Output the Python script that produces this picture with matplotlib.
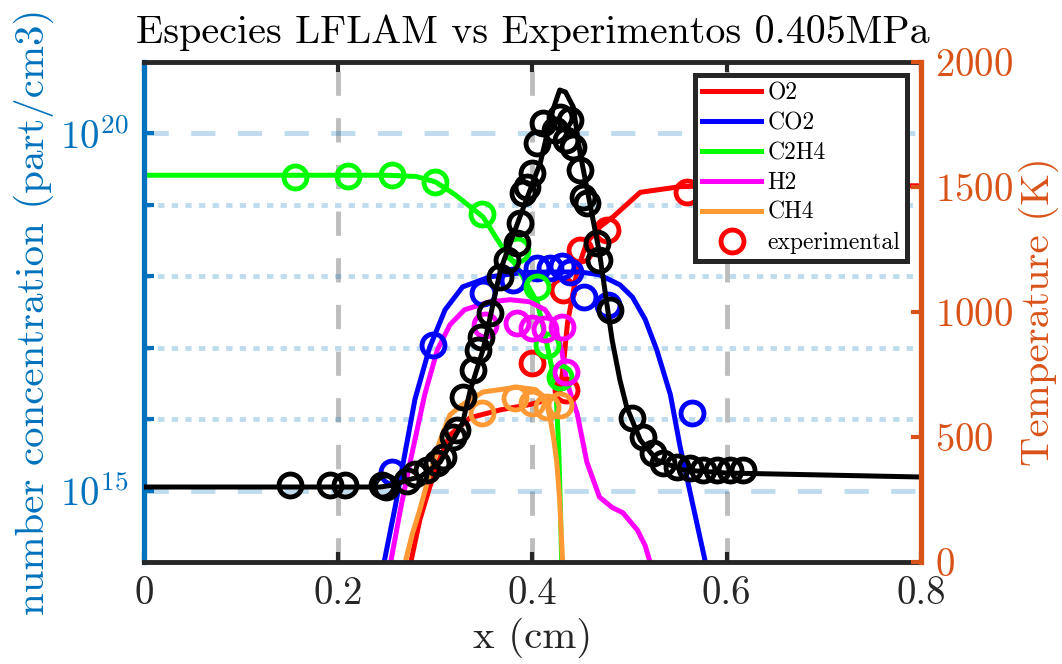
import matplotlib
matplotlib.use('Agg')
import matplotlib.pyplot as plt
from matplotlib.ticker import FixedLocator, NullFormatter, FuncFormatter
from matplotlib.lines import Line2D

plt.rcParams['font.family'] = 'serif'
plt.rcParams['font.serif'] = ['cmr10']
plt.rcParams['mathtext.fontset'] = 'cm'
plt.rcParams['axes.formatter.use_mathtext'] = True

# ---- model curves (LFLAM), number concentration in part/cm3 ----
x_o2 = [0.270, 0.284, 0.294, 0.305, 0.315, 0.336, 0.367, 0.397, 0.418, 0.428, 0.432, 0.436,
        0.446, 0.456, 0.470, 0.483, 0.511, 0.552, 0.593, 0.8]
n_o2 = [5e13, 3.9e14, 1.1e15, 2.9e15, 6.0e15, 1.05e16, 1.35e16, 1.6e16, 1.9e16, 2.3e16, 6e16, 2.2e17,
        1.2e18, 3.0e18, 5.0e18, 6.8e18, 1.5e19, 1.8e19, 1.85e19, 1.85e19]

x_co2 = [0.244, 0.259, 0.267, 0.279, 0.294, 0.310, 0.328, 0.356, 0.387, 0.418, 0.449, 0.469,
         0.490, 0.503, 0.516, 0.528, 0.542, 0.552, 0.564, 0.578, 0.582]
n_co2 = [6e13, 6.3e14, 2.5e15, 1.9e16, 1.0e17, 3.4e17, 7.1e17, 9.8e17, 1.12e18, 1.15e18, 1.15e18, 1.05e18,
         7.6e17, 5.1e17, 2.5e17, 9.3e16, 2.2e16, 4.1e15, 7.4e14, 1e14, 5e13]

x_c2h4 = [0.0, 0.25, 0.28, 0.30, 0.32, 0.349, 0.367, 0.385, 0.405, 0.415, 0.424, 0.427, 0.429, 0.431]
n_c2h4 = [2.6e19, 2.6e19, 2.5e19, 2.1e19, 1.4e19, 6.8e18, 2.8e18, 1.3e18, 4.3e17, 1.1e17, 2.8e16,
          4.0e15, 4.0e14, 3.2e13]

x_h2 = [0.251, 0.264, 0.274, 0.289, 0.302, 0.315, 0.330, 0.356, 0.377, 0.397, 0.413, 0.423,
        0.430, 0.435, 0.441, 0.446, 0.456, 0.469, 0.482, 0.493, 0.508, 0.516, 0.521, 0.524]
n_h2 = [6e13, 5.4e14, 2.5e15, 2.2e16, 9.3e16, 2.1e17, 3.4e17, 4.4e17, 4.7e17, 4.4e17, 3.4e17, 2.1e17,
        9.3e16, 3.5e16, 1.9e16, 1.2e16, 2.5e15, 8.1e14, 5.8e14, 4.9e14, 2.8e14, 1.7e14, 1e14, 5e13]

x_ch4 = [0.265, 0.276, 0.284, 0.294, 0.305, 0.315, 0.328, 0.349, 0.384, 0.403, 0.413, 0.418,
         0.422, 0.425, 0.428, 0.431, 0.433]
n_ch4 = [6e13, 2.4e14, 5.4e14, 1.7e15, 5.1e15, 1.15e16, 1.6e16, 2.4e16, 2.8e16, 2.6e16, 2.0e16, 1.07e16,
         5.1e15, 2.5e15, 7.4e14, 1e14, 3e13]

# ---- experimental species ----
xe_o2 = [0.400, 0.431, 0.435, 0.449, 0.477, 0.559]
ne_o2 = [6.2e16, 6.5e17, 2.6e16, 2.3e18, 4.5e18, 1.5e19]

xe_co2 = [0.255, 0.298, 0.349, 0.380, 0.405, 0.418, 0.430, 0.439, 0.453, 0.478, 0.564]
ne_co2 = [1.8e15, 1.1e17, 5.9e17, 8.9e17, 1.3e18, 1.3e18, 1.4e18, 1.15e18, 5.2e17, 4.0e17, 1.2e16]

xe_c2h4 = [0.155, 0.210, 0.255, 0.300, 0.348, 0.384, 0.405, 0.415, 0.428]
ne_c2h4 = [2.45e19, 2.5e19, 2.6e19, 2.1e19, 7.4e18, 2.3e18, 7.1e17, 1.1e17, 3.9e16]

xe_h2 = [0.351, 0.384, 0.399, 0.413, 0.430, 0.435]
ne_h2 = [2.1e17, 2.2e17, 1.9e17, 1.8e17, 1.95e17, 4.6e16]

xe_ch4 = [0.348, 0.382, 0.400, 0.415, 0.428]
ne_ch4 = [1.2e16, 2.0e16, 1.7e16, 1.5e16, 1.6e16]

# ---- temperature ----
x_T = [0.0, 0.243, 0.258, 0.271, 0.284, 0.294, 0.305, 0.312, 0.320, 0.328, 0.336, 0.349, 0.367,
       0.387, 0.408, 0.421, 0.428, 0.434, 0.442, 0.449, 0.459, 0.469, 0.482, 0.490, 0.497, 0.511,
       0.528, 0.555, 0.600, 0.8]
T_mod = [300, 300, 308, 328, 340, 368, 400, 448, 500, 556, 688, 848, 1168,
         1380, 1596, 1808, 1888, 1880, 1820, 1636, 1436, 1236, 888, 728, 620, 488,
         408, 368, 356, 340]

xe_T = [0.150, 0.192, 0.207, 0.245, 0.249, 0.271, 0.279, 0.291, 0.302, 0.308, 0.318, 0.322,
        0.328, 0.339, 0.344, 0.347, 0.356, 0.367, 0.374, 0.384, 0.387, 0.390, 0.394, 0.400,
        0.405, 0.411, 0.423, 0.428, 0.435, 0.439, 0.442, 0.449, 0.452, 0.456, 0.466, 0.468,
        0.480, 0.502, 0.514, 0.524, 0.534, 0.549, 0.562, 0.576, 0.590, 0.603, 0.617]
Te = [308, 308, 308, 308, 300, 324, 352, 368, 396, 420, 500, 528,
      660, 768, 848, 900, 996, 1140, 1208, 1276, 1356, 1476, 1500, 1556,
      1676, 1756, 1728, 1780, 1688, 1768, 1660, 1568, 1460, 1436, 1276, 1208,
      1008, 576, 500, 436, 396, 380, 376, 368, 368, 368, 368]

species = ['O2', 'CO2', 'C2H4', 'H2', 'CH4']
colors = ['#FF0000', '#0000FF', '#00FF00', '#FF00FF', '#FF9933']

BLUE = '#0072BD'
ORANGE = '#D95319'
DARK = '#262626'
LW = 3.6
MS = 16.5
MEW = 3.5

fig = plt.figure(figsize=(10.62, 6.64), dpi=100)
ax = fig.add_axes([0.1356, 0.1536, 0.7316, 0.7530])

models = [(x_o2, n_o2), (x_co2, n_co2), (x_c2h4, n_c2h4), (x_h2, n_h2), (x_ch4, n_ch4)]
exps = [(xe_o2, ne_o2), (xe_co2, ne_co2), (xe_c2h4, ne_c2h4), (xe_h2, ne_h2), (xe_ch4, ne_ch4)]

handles = []
for (xm, nm), c, name in zip(models, colors, species):
    h, = ax.plot(xm, nm, color=c, lw=LW, label=name)
    handles.append(h)
for (xe, ne), c in zip(exps, colors):
    ax.plot(xe, ne, 'o', color=c, mfc='none', ms=MS, mew=MEW)

ax.set_yscale('log')
ax.set_xlim(0, 0.8)
ax.set_ylim(1e14, 1e21)
ax.xaxis.set_major_locator(FixedLocator([0, 0.2, 0.4, 0.6, 0.8]))
ax.xaxis.set_major_formatter(FuncFormatter(lambda v, p: '0' if v == 0 else f'{v:.1f}'))
ax.yaxis.set_major_locator(FixedLocator([1e15, 1e20]))
ax.yaxis.set_minor_locator(FixedLocator([1e16, 1e17, 1e18, 1e19]))
ax.yaxis.set_minor_formatter(NullFormatter())

ax.grid(True, which='major', axis='y', color=BLUE, alpha=0.25, lw=3.5, ls=(0, (5, 4.6)))
ax.grid(True, which='minor', axis='y', color=BLUE, alpha=0.25, lw=3.5, ls=(0, (1.3, 1.5)))
ax.grid(True, which='major', axis='x', color=DARK, alpha=0.3, lw=3.5, ls=(0, (5, 4.6)))

ax.tick_params(axis='x', which='both', direction='in', length=7, width=3, colors=DARK,
               labelsize=28, top=True, pad=10)
ax.tick_params(axis='y', which='both', direction='in', length=7, width=3, colors=BLUE,
               labelsize=28, pad=11, right=False)
for side in ['top', 'bottom']:
    ax.spines[side].set_color(DARK)
    ax.spines[side].set_linewidth(3.5)
ax.spines['left'].set_color(BLUE)
ax.spines['left'].set_linewidth(3.8)
ax.spines['right'].set_visible(False)

ax.set_xlabel('x (cm)', fontsize=29.5, color=DARK)
ax.set_ylabel('number concentration (part/cm3)', fontsize=29.5, color=BLUE)
ax.set_title('Especies LFLAM vs Experimentos 0.405MPa', fontsize=28.8, pad=14)

ax2 = ax.twinx()
ax2.plot(x_T, T_mod, color='black', lw=LW)
ax2.plot(xe_T, Te, 'o', color='black', mfc='none', ms=MS, mew=MEW)
ax2.set_ylim(0, 2000)
ax2.yaxis.set_major_locator(FixedLocator([0, 500, 1000, 1500, 2000]))
ax2.tick_params(axis='y', direction='in', length=7, width=3, colors=ORANGE, labelsize=28, pad=10)
for side in ['top', 'bottom', 'left']:
    ax2.spines[side].set_visible(False)
ax2.spines['right'].set_color(ORANGE)
ax2.spines['right'].set_linewidth(3.8)
ax2.set_ylabel('Temperature (K)', fontsize=29.5, color=ORANGE)

exp_handle = Line2D([], [], ls='none', marker='o', color='#FF0000', mfc='none', ms=MS, mew=MEW)
leg = ax2.legend(handles + [exp_handle], species + ['experimental'], loc='upper right',
                 bbox_to_anchor=(0.982, 0.974), borderaxespad=0, fontsize=17,
                 fancybox=False, framealpha=1, edgecolor=DARK, handlelength=2.5,
                 handletextpad=0.25, labelspacing=0.33, borderpad=0.3)
leg.get_frame().set_linewidth(3.6)

fig.savefig('out.png', dpi=100, facecolor='white')
